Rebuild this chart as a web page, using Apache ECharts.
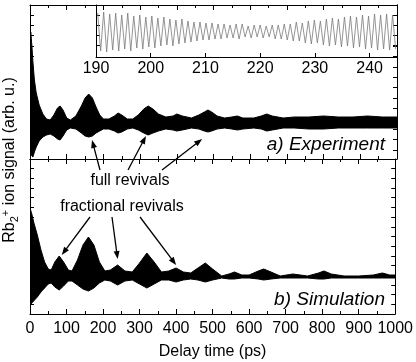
<!DOCTYPE html>
<html>
<head>
<meta charset="utf-8">
<script src="https://cdn.jsdelivr.net/npm/echarts@6/dist/echarts.min.js"></script>
<style>
  html, body { margin: 0; padding: 0; background: #fff; }
  #chart { width: 416px; height: 362px; }
</style>
</head>
<body>
<div id="chart"></div>
<script>
// experiment: envelope of the fast oscillation (arb. u.)
const expTime = [0, 2, 5, 8, 12, 17, 25, 35, 45, 55, 65, 75, 82, 90, 100, 110, 125, 140, 150, 160, 170, 180, 190, 200, 215, 230, 240, 250, 265, 280, 295, 310, 322, 335, 350, 370, 390, 400, 415, 440, 460, 475, 485, 495, 510, 530, 550, 565, 580, 610, 630, 645, 660, 690, 720, 760, 800, 840, 880, 920, 960, 1000];
const expUpper = [80, 127, 114, 97, 79, 66, 54, 45, 40, 39, 44, 51, 53, 49, 41, 39, 43, 53, 61, 65, 61, 52, 44, 40, 40, 43, 46, 44, 40, 40, 44, 50, 53, 50, 45, 42, 43, 45, 43, 41, 44, 47, 49, 47, 43, 41, 42, 43, 41, 41, 43, 45, 43, 41, 42, 42, 43, 42, 42, 43, 42, 42];
const expLower = [30, 8, 3, 2, 7, 12, 18, 22, 24, 25, 23, 20, 19, 23, 29, 31, 30, 26, 23, 22, 23, 26, 28, 30, 30, 28, 26, 27, 30, 31, 29, 26, 24, 26, 28, 30, 29, 28, 29, 31, 30, 28, 27, 28, 30, 31, 30, 29, 30, 31, 30, 28, 29, 31, 31, 30, 30, 31, 31, 31, 31, 31];

// simulation envelope
const simTime = [0, 5, 10, 20, 30, 40, 50, 58, 68, 80, 92, 105, 115, 130, 145, 160, 175, 190, 205, 220, 240, 260, 280, 300, 320, 340, 360, 380, 400, 420, 440, 460, 480, 500, 525, 545, 560, 580, 600, 625, 640, 660, 685, 720, 760, 790, 805, 825, 860, 900, 940, 965, 985, 1000];
const simUpper = [106, 100, 92, 79, 64, 52, 45, 44, 52, 58, 52, 44, 43, 54, 69, 77, 69, 52, 43, 44, 49, 43, 42, 51, 61, 52, 42, 43, 46, 42, 41, 46, 51, 45, 38, 40, 42, 39, 39, 43, 45, 42, 38, 40, 38, 41, 43, 40, 38, 38, 39, 41, 39, 39];
const simLower = [9, 11, 13, 17, 22, 26, 30, 31, 27, 24, 28, 33, 33, 29, 25, 23, 26, 31, 34, 33, 29, 33, 34, 30, 26, 30, 34, 34, 32, 34, 35, 34, 32, 34, 36, 35, 35, 36, 36, 35, 34, 35, 36, 36, 36, 35, 35, 36, 36, 36, 36, 36, 36, 36];

// inset 190-245 ps: successive maxima / minima of the oscillation
const insetStart = 190.3;
const insetPeriod = 1.1;
const insetMax = [44, 45, 43, 44, 42, 44, 41, 42, 40, 41, 39, 40, 38, 37, 38, 36, 35, 35, 34, 34, 33, 33, 32, 33, 33, 31, 32, 32, 31, 32, 32, 33, 33, 35, 34, 36, 37, 36, 38, 39, 38, 40, 41, 40, 42, 41, 43, 42, 43, 42];
const insetMin = [6, 5, 7, 6, 8, 6, 9, 8, 10, 9, 11, 12, 11, 13, 14, 15, 16, 17, 17, 18, 18, 19, 19, 18, 20, 19, 20, 19, 20, 18, 18, 17, 16, 16, 14, 13, 14, 12, 11, 12, 10, 11, 9, 10, 8, 9, 7, 8, 7, 8];

// tick positions
const expTicks = [9, 19.4, 29.8, 40.2, 50.6, 61, 71.4, 81.8, 92.2, 102.6, 113, 123.4, 133.8, 144.2];
const simTicks = [9.7, 19.4, 29.1, 38.8, 48.4, 58.1, 67.8, 77.5, 87.2, 96.9, 106.6, 116.3, 126, 135.6, 145.3];
const insetTicks = [12, 22, 32, 42];

// annotation arrow targets (time, signal)
const fullRevivalTips = [[169, 19], [316, 23], [469, 20]];
const fracRevivalTips = [[87, 59], [240, 55], [400, 49]];

const FONT = 'Liberation Sans, Arial, sans-serif';

function xAx(grid, pos, opts) {
  return Object.assign({
    type: 'value', gridIndex: grid, position: pos,
    min: 0, max: 1000, interval: 100,
    axisLine: { show: true, onZero: false, lineStyle: { color: '#000', width: 1 } },
    axisTick: { show: true, inside: true, length: 5, lineStyle: { color: '#000' } },
    minorTick: { show: true, splitNumber: 2, length: 3, lineStyle: { color: '#000' } },
    axisLabel: { show: false },
    splitLine: { show: false }
  }, opts || {});
}

function yAx(grid, pos, max, ticks) {
  return {
    type: 'value', gridIndex: grid, position: pos,
    min: 0, max: max,
    axisLine: { show: true, onZero: false, lineStyle: { color: '#000', width: 1 } },
    axisTick: { show: true, inside: true, length: 4, customValues: ticks, lineStyle: { color: '#000' } },
    axisLabel: { show: false },
    splitLine: { show: false }
  };
}

// filled band between lower and upper envelope, drawn as one polygon
function band(time, lower, upper, xi, yi) {
  return {
    type: 'custom', xAxisIndex: xi, yAxisIndex: yi, silent: true, clip: true,
    data: time.map((t, i) => [t, lower[i], upper[i]]),
    encode: { x: 0, y: [1, 2] },
    renderItem: function (params, api) {
      if (params.dataIndex !== 0) return null;
      const pts = [];
      for (let i = 0; i < time.length; i++) pts.push(api.coord([time[i], upper[i]]));
      for (let i = time.length - 1; i >= 0; i--) pts.push(api.coord([time[i], lower[i]]));
      return {
        type: 'polygon',
        shape: { points: pts },
        style: { fill: '#000', stroke: '#000', lineWidth: 1 }
      };
    }
  };
}

const insetData = [];
insetMax.forEach((v, i) => {
  const t = insetStart + i * insetPeriod;
  insetData.push([t, v]);
  insetData.push([t + insetPeriod / 2, insetMin[i]]);
});

let chart = echarts.init(document.getElementById('chart'));
chart.setOption({
  animation: false,
  textStyle: { fontFamily: FONT, color: '#000' },
  grid: [
    { left: 30, right: 19, top: 5, height: 154 },
    { left: 30, right: 19, top: 159, height: 155 },
    { left: 96, right: 19, top: 5, height: 52 }
  ],
  xAxis: [
    xAx(0, 'bottom'),
    xAx(0, 'top'),
    xAx(1, 'bottom', {
      axisLabel: { show: true, color: '#000', fontSize: 16, fontFamily: FONT, margin: 7, formatter: v => String(v) },
      name: 'Delay time (ps)', nameLocation: 'middle', nameGap: 30,
      nameTextStyle: { color: '#000', fontSize: 16, fontFamily: FONT }
    }),
    xAx(1, 'top'),
    {
      type: 'value', gridIndex: 2, position: 'bottom',
      min: 190, max: 245, interval: 10,
      axisLine: { show: true, onZero: false, lineStyle: { color: '#000', width: 1 } },
      axisTick: { show: true, inside: true, length: 4, lineStyle: { color: '#000' } },
      axisLabel: { show: true, showMaxLabel: false, color: '#000', fontSize: 16, fontFamily: FONT, margin: 4, formatter: v => String(v) },
      splitLine: { show: false }
    }
  ],
  yAxis: [
    yAx(0, 'left', 154, expTicks),
    yAx(0, 'right', 154, expTicks),
    yAx(1, 'left', 155, simTicks),
    yAx(1, 'right', 155, simTicks),
    yAx(2, 'left', 52, insetTicks),
    yAx(2, 'right', 52, insetTicks)
  ],
  series: [
    band(expTime, expLower, expUpper, 0, 0),
    band(simTime, simLower, simUpper, 2, 2),
    {
      type: 'line', xAxisIndex: 4, yAxisIndex: 4, symbol: 'none', silent: true,
      lineStyle: { color: '#7a7a7a', width: 0.8 },
      data: insetData
    }
  ]
});

function arrow(tail, tip) {
  const dx = tip[0] - tail[0], dy = tip[1] - tail[1];
  const len = Math.sqrt(dx * dx + dy * dy);
  const ux = dx / len, uy = dy / len;
  const L = 8, W = 3;
  const bx = tip[0] - ux * L, by = tip[1] - uy * L;
  return [
    { type: 'line', silent: true, shape: { x1: tail[0], y1: tail[1], x2: bx + ux * 2, y2: by + uy * 2 }, style: { stroke: '#000', lineWidth: 1.3 } },
    { type: 'polygon', silent: true, shape: { points: [tip, [bx - uy * W, by + ux * W], [bx + uy * W, by - ux * W]] }, style: { fill: '#000' } }
  ];
}

const fullTails = [[100, 170], [128, 170], [162, 170]];
const fracTails = [[90, 217], [112, 217], [140, 217]];
let graphics = [];
fullRevivalTips.forEach((p, i) => {
  graphics = graphics.concat(arrow(fullTails[i], chart.convertToPixel({ xAxisIndex: 0, yAxisIndex: 0 }, p)));
});
fracRevivalTips.forEach((p, i) => {
  graphics = graphics.concat(arrow(fracTails[i], chart.convertToPixel({ xAxisIndex: 2, yAxisIndex: 2 }, p)));
});

const labelStyle = { fill: '#000', fontFamily: FONT, fontSize: 16, align: 'center', verticalAlign: 'middle' };
graphics.push(
  { type: 'text', x: 130, y: 181, silent: true, style: Object.assign({ text: 'full revivals' }, labelStyle) },
  { type: 'text', x: 122, y: 207, silent: true, style: Object.assign({ text: 'fractional revivals' }, labelStyle) },
  { type: 'text', x: 385, y: 145, silent: true, style: { text: 'a) Experiment', fill: '#000', fontFamily: FONT, fontSize: 19, fontStyle: 'italic', align: 'right', verticalAlign: 'middle' } },
  { type: 'text', x: 385, y: 300, silent: true, style: { text: 'b) Simulation', fill: '#000', fontFamily: FONT, fontSize: 19, fontStyle: 'italic', align: 'right', verticalAlign: 'middle' } },
  {
    type: 'text', x: 10, y: 160, rotation: Math.PI / 2, silent: true,
    style: {
      text: '{n|Rb}{sub|2}{sup|+}{n| ion signal (arb. u.)}',
      align: 'center', verticalAlign: 'middle', fill: '#000',
      rich: {
        n: { fontFamily: FONT, fontSize: 16, lineHeight: 20, verticalAlign: 'middle' },
        sub: { fontFamily: FONT, fontSize: 11, lineHeight: 20, verticalAlign: 'bottom' },
        sup: { fontFamily: FONT, fontSize: 11, lineHeight: 20, verticalAlign: 'top' }
      }
    }
  }
);
chart.setOption({ graphic: graphics });
</script>
</body>
</html>
